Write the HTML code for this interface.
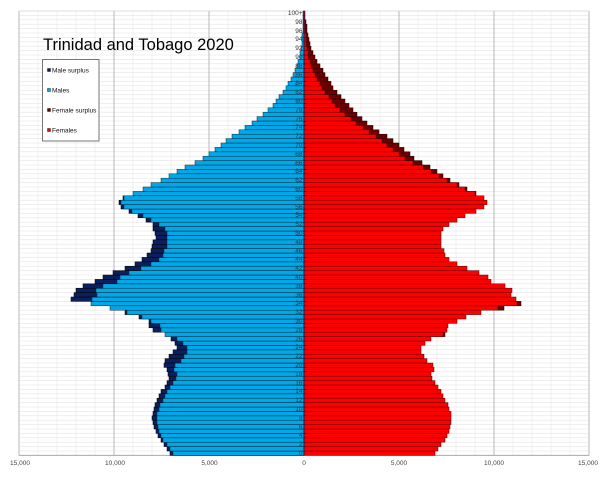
<!DOCTYPE html>
<html><head><meta charset="utf-8"><style>
html,body{margin:0;padding:0;background:#fff;}
svg{display:block;font-family:"Liberation Sans",sans-serif;}
</style></head><body>
<svg id="s" width="600" height="482" viewBox="0 0 600 482" xmlns="http://www.w3.org/2000/svg">
<rect x="0" y="0" width="600" height="482" fill="#fff"/>
<g id="grid"></g>
<g id="bars"></g>
<g font-size="6.5" fill="#333" text-anchor="end">
<text x="302.5" y="15">100+</text><text x="302.5" y="24">98</text><text x="302.5" y="33">96</text><text x="302.5" y="41">94</text><text x="302.5" y="50">92</text><text x="302.5" y="59">90</text><text x="302.5" y="68">88</text><text x="302.5" y="77">86</text><text x="302.5" y="85">84</text><text x="302.5" y="94">82</text><text x="302.5" y="103">80</text><text x="302.5" y="112">78</text><text x="302.5" y="121">76</text><text x="302.5" y="129">74</text><text x="302.5" y="138">72</text><text x="302.5" y="147">70</text><text x="302.5" y="156">68</text><text x="302.5" y="165">66</text><text x="302.5" y="173">64</text><text x="302.5" y="182">62</text><text x="302.5" y="191">60</text><text x="302.5" y="200">58</text><text x="302.5" y="209">56</text><text x="302.5" y="217">54</text><text x="302.5" y="226">52</text><text x="302.5" y="235">50</text><text x="302.5" y="244">48</text><text x="302.5" y="253">46</text><text x="302.5" y="261">44</text><text x="302.5" y="270">42</text><text x="302.5" y="279">40</text><text x="302.5" y="288">38</text><text x="302.5" y="297">36</text><text x="302.5" y="305">34</text><text x="302.5" y="314">32</text><text x="302.5" y="323">30</text><text x="302.5" y="332">28</text><text x="302.5" y="341">26</text><text x="302.5" y="349">24</text><text x="302.5" y="358">22</text><text x="302.5" y="367">20</text><text x="302.5" y="376">18</text><text x="302.5" y="385">16</text><text x="302.5" y="393">14</text><text x="302.5" y="402">12</text><text x="302.5" y="411">10</text><text x="302.5" y="420">8</text><text x="302.5" y="429">6</text><text x="302.5" y="437">4</text><text x="302.5" y="446">2</text><text x="302.5" y="455">0</text>
</g>
<g font-size="6.5" fill="#444" text-anchor="middle">
<text x="20" y="465">15,000</text><text x="115" y="465">10,000</text><text x="209.5" y="465">5,000</text><text x="304" y="465">0</text><text x="399" y="465">5,000</text><text x="494" y="465">10,000</text><text x="588" y="465">15,000</text>
</g>
<text x="43" y="50" font-size="16.5" fill="#000">Trinidad and Tobago 2020</text>
<rect x="42.5" y="59.5" width="56.5" height="81.5" fill="#fff" stroke="#777" stroke-width="1"/>
<rect x="47.5" y="68.5" width="3" height="3" fill="#0a1f5c" stroke="#000" stroke-width="0.4"/>
<text x="52" y="72.3" font-size="6.5" fill="#111">Male surplus</text>
<rect x="47.5" y="88.5" width="3" height="3" fill="#00a8e8" stroke="#000" stroke-width="0.4"/>
<text x="52" y="92.3" font-size="6.5" fill="#111">Males</text>
<rect x="47.5" y="108.5" width="3" height="3" fill="#6b0000" stroke="#000" stroke-width="0.4"/>
<text x="52" y="112.3" font-size="6.5" fill="#111">Female surplus</text>
<rect x="47.5" y="128.5" width="3" height="3" fill="#ff0000" stroke="#000" stroke-width="0.4"/>
<text x="52" y="132.3" font-size="6.5" fill="#111">Females</text>
</svg>
<script>
var NS="http://www.w3.org/2000/svg";
var C=304, T=11, H=4.4, L0=19, R0=589;
// pixel lengths [male, female] for ages 0..100
var d=[[134,131],[137,134],[140,137],[143,141],[146,143],[148,145],[150,146],[151,147],[152,147],[151,147],
[150,145],[149,144],[147,141],[145,139],[143,137],[139,134],[137,131],[135,128],[136,127],[137,130],
[140,129],[139,123],[135,120],[131,117],[127,117],[129,121],[133,127],[139,141],[151,143],[155,144],
[155,153],[165,162],[179,177],[194,200],[213,217],[233,212],[230,207],[228,208],[221,201],[209,187],
[201,184],[191,175],[179,163],[169,153],[162,145],[157,141],[153,140],[152,137],[151,137],[148,137],
[149,137],[151,139],[151,145],[158,153],[166,161],[175,172],[183,180],[185,183],[181,180],[171,172],
[161,163],[153,155],[143,146],[135,139],[127,133],[119,126],[109,118],[101,110],[95,106],[89,100],
[83,95],[78,89],[72,83],[65,75],[59,69],[52,63],[47,58],[41,53],[36,49],[31,45],
[28,41],[25,37],[21,33],[18,29],[16,27],[13,24],[11,21],[9,19],[7,16],[6,13],
[4,11],[4,9],[3,7],[2,6],[2,5],[2,4],[1,3],[1,3],[1,2],[1,1],[1,1]];
function r(p,x,y,w,h,f,s,sw){var e=document.createElementNS(NS,"rect");e.setAttribute("x",x);e.setAttribute("y",y);e.setAttribute("width",w);e.setAttribute("height",h);e.setAttribute("fill",f);if(s){e.setAttribute("stroke",s);e.setAttribute("stroke-width",sw);}p.appendChild(e);}
function l(p,x1,y1,x2,y2,c,w){var e=document.createElementNS(NS,"line");e.setAttribute("x1",x1);e.setAttribute("y1",y1);e.setAttribute("x2",x2);e.setAttribute("y2",y2);e.setAttribute("stroke",c);e.setAttribute("stroke-width",w);p.appendChild(e);}
var g=document.getElementById("grid"), b=document.getElementById("bars");
var bot=T+101*H;
for(var i=0;i<=101;i++){var y=T+i*H;l(g,L0,y,R0,y,"#e4e4e4",0.6);}
for(var k=-15;k<=15;k++){var x=C+k*19;if(k%5==0)continue;l(g,x,T,x,bot,"#e8e8e8",0.6);}
[-10,-5,5,10].forEach(function(k){var x=C+k*19;l(g,x,T,x,bot,"#b8b8b8",1);});
l(g,L0,T,L0,bot,"#b8b8b8",1);l(g,R0,T,R0,bot,"#b8b8b8",1);
l(g,L0,bot,R0,bot,"#aaa",1);l(g,L0,T,R0,T,"#ccc",0.6);
for(var a=0;a<=100;a++){
 var m=d[a][0], f=d[a][1], mn=Math.min(m,f), y=T+(100-a)*H;
 if(m>f) r(b,C-m,y,m,H,"#0a1f5c","#000",0.5);
 r(b,C-mn,y,mn,H,"#00a8e8","#0a2a40",0.5);
 if(f>m) r(b,C,y,f,H,"#6b0000","#200",0.5);
 r(b,C,y,mn,H,"#ff0000","#5a0000",0.5);
}
l(b,C,T,C,bot,"#0a1f5c",1);
</script>
</body></html>
